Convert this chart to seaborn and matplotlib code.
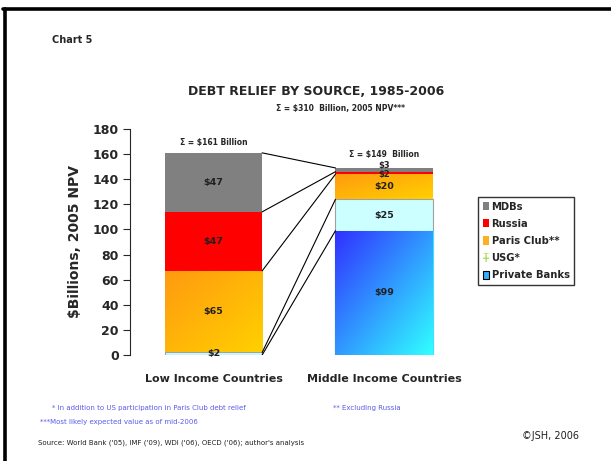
import numpy as np
import pandas as pd
import matplotlib
matplotlib.use("Agg")
import matplotlib.pyplot as plt
import seaborn as sns
from matplotlib.colors import LinearSegmentedColormap
from matplotlib.patches import Patch
from matplotlib.lines import Line2D

sns.set_style("white")
plt.rcParams['font.family'] = ['DejaVu Sans']

# data ($ billions, 2005 NPV)
categories = ['Low Income Countries', 'Middle Income Countries']
series = ['Private Banks', 'USG*', 'Paris Club**', 'Russia', 'MDBs']   # bottom -> top
private_banks = [0, 99]
usg = [2, 25]
paris_club = [65, 20]
russia = [47, 2]
mdbs = [47, 3]
totals_text = ['\u03a3 = $161 Billion', '\u03a3 = $149  Billion']

values = [private_banks, usg, paris_club, russia, mdbs]
df = pd.DataFrame(values, index=series, columns=categories).T
cum = df.cumsum(axis=1)

colors = {'MDBs': '#808080', 'Russia': '#ff0000', 'Paris Club**': '#ffb000',
          'USG*': '#ccffff', 'Private Banks': '#33a0ff'}
gradients = {'Paris Club**': LinearSegmentedColormap.from_list('pc', ['#ff9a10', '#ffd000']),
             'Private Banks': LinearSegmentedColormap.from_list('pb', ['#3030ff', '#30ffff'])}

fig = plt.figure(figsize=(6.11, 4.61), dpi=100)
ax = fig.add_axes([130 / 611, 1 - 355 / 461, 340 / 611, 226 / 461])
bw = 0.57

# stacked bars: draw cumulative heights from the top series down
for s in series[::-1]:
    n0 = len(ax.patches)
    sns.barplot(x=categories, y=cum[s].values, color=colors[s], width=bw,
                saturation=1, ax=ax, zorder=2)
    new = ax.patches[n0:]
    for p in new:
        p.set_linewidth(0)
        if s == 'USG*':
            p.set_edgecolor('#a0a0a0')
            p.set_linewidth(0.8)
        if s == 'Private Banks':
            p.set_edgecolor('#40e0ff')
            p.set_linewidth(0.8)
    if s in gradients:
        for i, p in enumerate(new):
            lo = cum[s].values[i] - df[s].values[i]
            hi = cum[s].values[i]
            if hi - lo <= 0:
                continue
            x0 = p.get_x()
            xs = np.linspace(0, 1, 60)
            ys = np.linspace(0, 1, 60)
            g = (xs[None, :] + ys[:, None]) / 2
            im = ax.imshow(g, extent=[x0, x0 + bw, lo, hi], cmap=gradients[s],
                           aspect='auto', zorder=2.5, origin='upper')
            clip = plt.Rectangle((x0, lo), bw, hi - lo, transform=ax.transData)
            im.set_clip_path(clip)
            p.set_facecolor('none')

# series lines joining the stacks
for s in series:
    ax.plot([0 + bw / 2, 1 - bw / 2], [cum.loc[categories[0], s], cum.loc[categories[1], s]],
            color='black', lw=0.8, zorder=3)

# data labels (the two thin top segments of the right bar are nudged apart)
nudge = {('Middle Income Countries', 'MDBs'): 3.2, ('Middle Income Countries', 'Russia'): -1.2}
for i, c in enumerate(categories):
    for s in series:
        v = df.loc[c, s]
        if v <= 0:
            continue
        mid = cum.loc[c, s] - v / 2 + nudge.get((c, s), 0)
        fs = 6.0 if (c, s) in nudge else 6.8
        ax.text(i, mid, f'${v}', ha='center', va='center', fontsize=fs,
                fontweight='bold', color='#202020', zorder=4)
    ax.text(i, cum.loc[c, 'MDBs'] + 8 + (2.5 if i == 1 else 0), totals_text[i],
            ha='center', va='center', fontsize=5.5, fontweight='bold', zorder=4)

ax.set_xlim(-0.49, 1.504)
ax.set_ylim(0, 180)
ax.set_yticks(range(0, 181, 20))
ax.tick_params(axis='y', labelsize=9, length=5, width=0.8, direction='out',
               left=True, pad=3)
for t in ax.get_yticklabels():
    t.set_fontweight('bold')
ax.tick_params(axis='x', length=0, pad=14)
for t in ax.get_xticklabels():
    t.set_fontweight('bold')
    t.set_fontsize(8)
ax.set_ylabel('$Billions, 2005 NPV', fontsize=10, fontweight='bold', labelpad=8)
ax.set_xlabel('')
sns.despine(ax=ax, top=True, right=True, bottom=True)
ax.spines['left'].set_linewidth(0.8)

# legend
handles = [Patch(facecolor='#808080', edgecolor='none', label='MDBs'),
           Patch(facecolor='#ff0000', edgecolor='none', label='Russia'),
           Patch(facecolor='#ffb020', edgecolor='none', label='Paris Club**'),
           Patch(facecolor='white', edgecolor='#b0e060', hatch='+++', lw=0, label='USG*'),
           Patch(facecolor='#30b0ff', edgecolor='black', lw=0.8, label='Private Banks')]
fig.legend(handles=handles, loc='upper left', bbox_to_anchor=(478 / 611, 1 - 197 / 461),
           prop={'weight': 'bold', 'size': 7.2}, frameon=True, fancybox=False,
           edgecolor='black', handlelength=0.6, handleheight=0.9, handletextpad=0.3,
           borderpad=0.45, labelspacing=0.72, borderaxespad=0)

# titles and notes
fig.text(52 / 611, 1 - 40 / 461, 'Chart 5', fontsize=7, fontweight='bold', va='center')
fig.text(316 / 611, 1 - 91 / 461, 'DEBT RELIEF BY SOURCE, 1985-2006', fontsize=9,
         fontweight='bold', ha='center', va='center')
fig.text(340 / 611, 1 - 109 / 461, '\u03a3 = $310  Billion, 2005 NPV***', fontsize=5.5,
         fontweight='bold', ha='center', va='center')
fig.text(52 / 611, 1 - 408 / 461, '* In addition to US participation in Paris Club debt relief',
         fontsize=5, color='#5a5aee', va='center')
fig.text(333 / 611, 1 - 408 / 461, '** Excluding Russia', fontsize=5, color='#5a5aee', va='center')
fig.text(40 / 611, 1 - 422 / 461, '***Most likely expected value as of mid-2006',
         fontsize=5, color='#5a5aee', va='center')
fig.text(38 / 611, 1 - 443 / 461, "Source: World Bank ('05), IMF ('09), WDI ('06), OECD ('06); author's analysis",
         fontsize=5, color='#202020', va='center')
fig.text(522 / 611, 1 - 436 / 461, '\u00a9JSH, 2006', fontsize=7, color='#202020', va='center')

# page frame (left and top edges)
fig.add_artist(Line2D([4.5 / 611, 4.5 / 611], [0, 1 - 9 / 461], color='black', lw=2.6))
fig.add_artist(Line2D([3 / 611, 1], [1 - 9 / 461, 1 - 9 / 461], color='black', lw=2.6))

fig.savefig('out.png', dpi=100)
